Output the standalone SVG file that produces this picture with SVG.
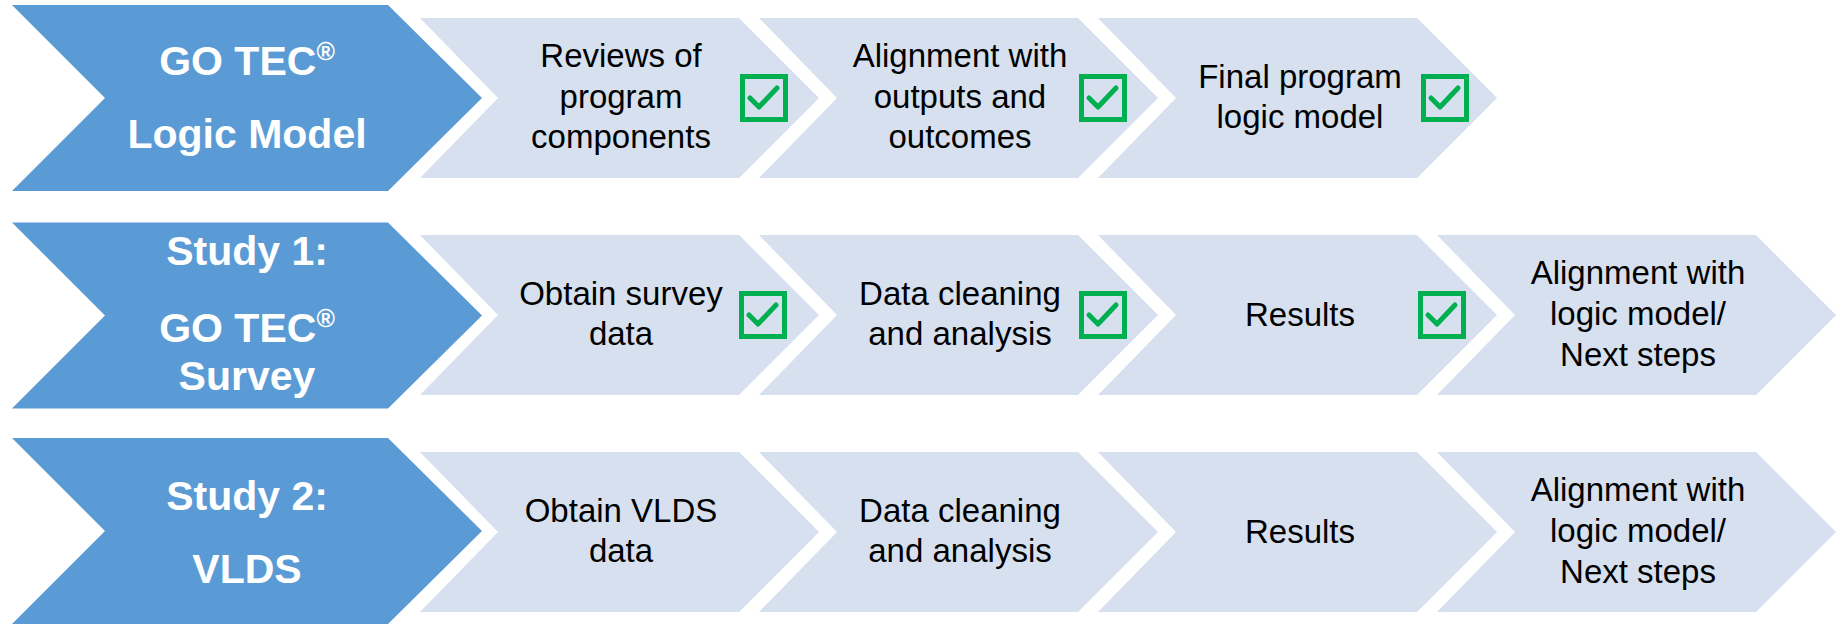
<svg xmlns="http://www.w3.org/2000/svg" width="1843" height="625" viewBox="0 0 1843 625">
<style>
.blue{fill:#5B9BD5}
.light{fill:#D6E0EF}
.ht{font-family:"Liberation Sans",Arial,sans-serif;font-weight:bold;font-size:41px;fill:#FFFFFF;text-anchor:middle}
.t{font-family:"Liberation Sans",Arial,sans-serif;font-size:33px;fill:#000000;text-anchor:middle}
.box{fill:none;stroke:#00B050;stroke-width:5}
.tick{fill:none;stroke:#00B050;stroke-width:5;stroke-linecap:round;stroke-linejoin:round}
</style>
<defs>
<polygon id="chev" points="0,-80 319,-80 399,0 319,80 0,80 78,0"/>
<polygon id="head" points="0,-93 376,-93 470,0 376,93 0,93 93,0"/>
<g id="check">
<rect class="box" x="2.5" y="2.5" width="43" height="43"/>
<polyline class="tick" points="10,24 19,33 37,14"/>
</g>
</defs>
<rect width="1843" height="625" fill="#FFFFFF"/>

<g id="row1">
<g id="r1-head"><use href="#head" class="blue" x="12" y="98"/>
<text class="ht" x="247" y="75">GO TEC<tspan font-size="25" dy="-15">®</tspan></text>
<text class="ht" x="247" y="148">Logic Model</text></g>
<g id="r1-c1"><use href="#chev" class="light" x="420" y="98"/>
<text class="t" x="621" y="67">Reviews of</text><text class="t" x="621" y="108">program</text><text class="t" x="621" y="148">components</text>
<use href="#check" x="740" y="74"/></g>
<g id="r1-c2"><use href="#chev" class="light" x="759" y="98"/>
<text class="t" x="960" y="67">Alignment with</text><text class="t" x="960" y="108">outputs and</text><text class="t" x="960" y="148">outcomes</text>
<use href="#check" x="1079" y="74"/></g>
<g id="r1-c3"><use href="#chev" class="light" x="1098" y="98"/>
<text class="t" x="1300" y="88">Final program</text><text class="t" x="1300" y="128">logic model</text>
<use href="#check" x="1421" y="74"/></g>
</g>

<g id="row2">
<g id="r2-head"><use href="#head" class="blue" x="12" y="315.5"/>
<text class="ht" x="247" y="265">Study 1:</text>
<text class="ht" x="247" y="342">GO TEC<tspan font-size="25" dy="-15">®</tspan></text>
<text class="ht" x="247" y="390">Survey</text></g>
<g id="r2-c1"><use href="#chev" class="light" x="420" y="315"/>
<text class="t" x="621" y="305">Obtain survey</text><text class="t" x="621" y="345">data</text>
<use href="#check" x="739" y="291"/></g>
<g id="r2-c2"><use href="#chev" class="light" x="759" y="315"/>
<text class="t" x="960" y="305">Data cleaning</text><text class="t" x="960" y="345">and analysis</text>
<use href="#check" x="1079" y="291"/></g>
<g id="r2-c3"><use href="#chev" class="light" x="1098" y="315"/>
<text class="t" x="1300" y="326">Results</text>
<use href="#check" x="1418" y="291"/></g>
<g id="r2-c4"><use href="#chev" class="light" x="1437" y="315"/>
<text class="t" x="1638" y="284">Alignment with</text><text class="t" x="1638" y="325">logic model/</text><text class="t" x="1638" y="366">Next steps</text></g>
</g>

<g id="row3">
<g id="r3-head"><use href="#head" class="blue" x="12" y="531"/>
<text class="ht" x="247" y="510">Study 2:</text>
<text class="ht" x="247" y="583">VLDS</text></g>
<g id="r3-c1"><use href="#chev" class="light" x="420" y="532"/>
<text class="t" x="621" y="522">Obtain VLDS</text><text class="t" x="621" y="562">data</text></g>
<g id="r3-c2"><use href="#chev" class="light" x="759" y="532"/>
<text class="t" x="960" y="522">Data cleaning</text><text class="t" x="960" y="562">and analysis</text></g>
<g id="r3-c3"><use href="#chev" class="light" x="1098" y="532"/>
<text class="t" x="1300" y="543">Results</text></g>
<g id="r3-c4"><use href="#chev" class="light" x="1437" y="532"/>
<text class="t" x="1638" y="501">Alignment with</text><text class="t" x="1638" y="542">logic model/</text><text class="t" x="1638" y="583">Next steps</text></g>
</g>

<g id="connectors"/>
</svg>
